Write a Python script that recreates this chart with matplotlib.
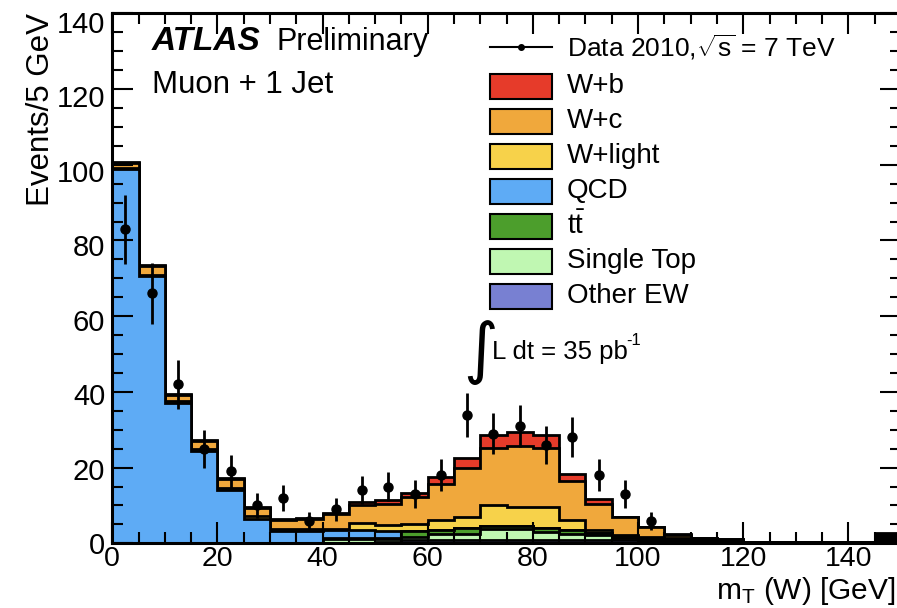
import numpy as np
import matplotlib
matplotlib.use("Agg")
import matplotlib.pyplot as plt
from matplotlib.patches import Rectangle
from matplotlib.lines import Line2D
from matplotlib.transforms import ScaledTranslation

plt.rcParams['font.family'] = ['Liberation Sans', 'DejaVu Sans']
plt.rcParams['mathtext.fontset'] = 'custom'
plt.rcParams['mathtext.rm'] = 'Liberation Sans'
plt.rcParams['mathtext.it'] = 'Liberation Sans:italic'
plt.rcParams['mathtext.bf'] = 'Liberation Sans:bold'

# 5 GeV bins from 0 to 150
edges = np.arange(0, 155, 5)

# stacked backgrounds, bottom to top
other_ew = [0, 0, 0, 0, 0, 0, 0, 0.1, 0.2, 0.2, 0.3, 0.8, 1.0, 1.0, 1.0, 1.0, 1.0, 1.0, 1.0, 0.8,
            0.6, 0.5, 0.4, 0.3, 0.2, 0.2, 0.2, 0.2, 0.2, 0]
single_top = [0, 0, 0, 0, 0, 0, 0, 0.1, 1.0, 1.0, 0.8, 0.9, 1.4, 1.4, 2.9, 2.9, 2.0, 1.45, 1.2, 0.5,
              0.3, 0.2, 0.1, 0.1, 0, 0, 0, 0, 0, 0]
ttbar = [0, 0, 0, 0, 0, 0, 0, 0, 0.3, 0.3, 0.4, 1.5, 1.0, 1.6, 0.7, 0.7, 1.0, 1.05, 0.6, 0.7,
         0.6, 0.5, 0.4, 0.3, 0.1, 0.1, 0.1, 0.1, 0.1, 0]
qcd = [98.8, 70.5, 37.0, 24.3, 14.0, 6.5, 3.3, 3.0, 2.0, 2.0, 1.8, 0, 0, 0, 0, 0, 0, 0, 0, 0,
       0, 0, 0, 0, 0, 0, 0, 0, 0, 0]
w_light = [0.3, 0.5, 0.5, 0.6, 0.7, 0.7, 0.6, 0.6, 0.3, 1.9, 1.5, 1.9, 2.7, 3.0, 5.5, 5.1, 5.5, 2.65, 0.7, 0.2,
           0.2, 0.1, 0.05, 0.05, 0, 0, 0, 0, 0, 0]
w_c = [1.4, 2.2, 1.6, 2.1, 2.2, 2.2, 2.2, 2.7, 4.0, 4.6, 5.6, 7.2, 9.65, 12.8, 15.0, 16.0, 15.6, 10.35, 6.9, 4.7,
       2.5, 1.0, 0.4, 0.3, 0, 0, 0, 0, 0, 0]
w_b = [0.3, 0.3, 0.3, 0.3, 0.3, 0.3, 0.3, 0.3, 0.3, 1.0, 1.0, 1.1, 1.8, 2.7, 3.5, 3.8, 3.5, 1.7, 1.2, 0.1,
       0.1, 0.1, 0.05, 0.05, 0, 0, 0, 0, 0, 0]
overflow = [0] * 29 + [2.8]

# data points
data_x = [2.5, 7.5, 12.5, 17.5, 22.5, 27.5, 32.5, 37.5, 42.5, 47.5, 52.5, 57.5, 62.5, 67.5, 72.5,
          77.5, 82.5, 87.5, 92.5, 97.5, 102.5]
data_y = [83, 66, 42, 25, 19, 10, 12, 6, 9, 14, 15, 13, 18, 34, 29, 31, 26, 28, 18, 13, 6]
data_err = [9.1, 8.1, 6.5, 5.0, 4.4, 3.2, 3.5, 2.4, 3.0, 3.7, 3.9, 3.6, 4.2, 5.8, 5.4, 5.6, 5.1, 5.3,
            4.2, 3.6, 2.4]

names = ['Other EW', 'Single Top', r'$\mathrm{t\bar{t}}$', 'QCD', 'W+light', 'W+c', 'W+b']
colors = ['#7880D2', '#C0F7B2', '#4C9E2C', '#5EABF5', '#F7D24A', '#F0A83C', '#E63B2A']
comps = [other_ew, single_top, ttbar, qcd, w_light, w_c, w_b]

fig = plt.figure(figsize=(8.97, 6.08), dpi=100)
ax = fig.add_axes([0.1252, 0.1064, 0.8792, 0.8717])

cum = np.cumsum(np.array(comps), axis=0)
for i in range(len(comps) - 1, -1, -1):
    ax.stairs(cum[i], edges, fill=True, facecolor=colors[i], edgecolor='black', linewidth=2.0)
ax.stairs(overflow, edges, fill=True, facecolor='black', edgecolor='black', linewidth=2.0)

ax.errorbar(data_x, data_y, yerr=data_err, fmt='o', color='black', ms=6.5, elinewidth=2, capsize=0, zorder=5)

yticks = np.arange(0, 141, 20)
ax.set_xlim(0, 150)
ax.set_ylim(0, 140)
ax.set_xticks(np.arange(0, 141, 20))
ax.set_yticks(yticks)
ax.set_xticks(np.arange(0, 151, 5), minor=True)
ax.set_yticks(np.arange(0, 141, 5), minor=True)
ax.tick_params(which='both', direction='in', top=True, right=True, width=1.5, labelsize=21)
ax.tick_params(which='major', length=15)
ax.tick_params(which='minor', length=8)
ax.tick_params(axis='x', pad=2.2, labelsize=20.5)
ax.tick_params(axis='y', pad=5)
for s in ax.spines.values():
    s.set_linewidth(2.2)
# ROOT-like label placement: labels sit a little lower than their ticks towards the top
for lab, v in zip(ax.get_yticklabels(), yticks):
    lab.set_transform(lab.get_transform() + ScaledTranslation(0, -0.085 * v / 140, fig.dpi_scale_trans))

ax.set_ylabel('Events/5 GeV', fontsize=22.5, loc='top')
ax.yaxis.set_label_coords(-0.0714, 1.0)
ax.set_xlabel(r'm$_{\mathrm{T}}$ (W) [GeV]', fontsize=21.5, loc='right')
ax.xaxis.set_label_coords(0.9938, -0.0595)

ax.text(0.0503, 0.946, 'ATLAS', fontsize=24, fontstyle='italic', fontweight='bold', va='center',
        transform=ax.transAxes)
ax.text(0.2076, 0.946, 'Preliminary', fontsize=22, va='center', transform=ax.transAxes)
ax.text(0.0503, 0.8645, 'Muon + 1 Jet', fontsize=22.5, va='center', transform=ax.transAxes)

ax.text(0.467, 0.361, '∫', fontsize=48, va='center', ha='center', family=['DejaVu Sans'],
        transform=ax.transAxes)
ax.text(0.4815, 0.361, 'L dt = 35 pb', fontsize=18.5, va='center', transform=ax.transAxes)
ax.text(0.6515, 0.383, '-1', fontsize=12, va='center', transform=ax.transAxes)

# legend, drawn by hand ROOT style
def px_x(p):
    return (p - 112.3) / 788.6

def px_y(p):
    return (543.3 - p) / 530.0

box_l, box_w, box_h = px_x(490), px_x(552) - px_x(490), 25 / 530.0
text_x = px_x(567)
ax.add_line(Line2D([px_x(490), px_x(552)], [px_y(47), px_y(47)], color='black', lw=1.5,
                   transform=ax.transAxes))
ax.plot([px_x(521)], [px_y(47)], 'o', color='black', ms=4, transform=ax.transAxes)
ax.text(text_x, px_y(47), r'Data 2010,$\sqrt{\mathrm{s}}$ = 7 TeV', fontsize=19, va='center',
        transform=ax.transAxes)
for k, i in enumerate(range(len(names) - 1, -1, -1)):
    yc = px_y(86 + 35 * k)
    ax.add_patch(Rectangle((box_l, yc - box_h / 2), box_w, box_h, facecolor=colors[i],
                           edgecolor='black', lw=1.5, transform=ax.transAxes))
    ax.text(text_x, yc, names[i], fontsize=20, va='center', transform=ax.transAxes)

fig.savefig('out.png', dpi=100)
